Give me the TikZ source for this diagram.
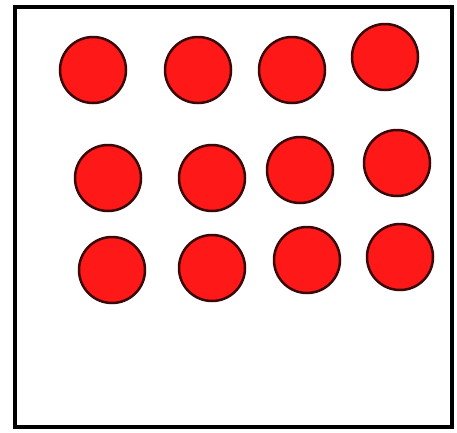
\documentclass[tikz,border=0pt]{standalone}
\definecolor{dotred}{HTML}{FF1818}
\definecolor{dotedge}{HTML}{3A0808}
\tikzset{
  dot/.style={circle, draw=dotedge, fill=dotred, line width=2.5pt, inner sep=0pt, minimum size=66pt},
  frame/.style={draw=black, line width=4pt}
}
\begin{document}
\begin{tikzpicture}[x=1pt,y=-1pt]
\useasboundingbox (0,0) rectangle (457,432);
\draw[frame] (15,7) rectangle (452,427);
% row 1
\node[dot] (a1) at (93,70) {};
\node[dot] (a2) at (198,70) {};
\node[dot] (a3) at (292,70) {};
\node[dot] (a4) at (385,57) {};
% row 2
\node[dot] (b1) at (108,178) {};
\node[dot] (b2) at (212,178) {};
\node[dot] (b3) at (300,170) {};
\node[dot] (b4) at (397,163) {};
% row 3
\node[dot] (c1) at (112,270) {};
\node[dot] (c2) at (212,268) {};
\node[dot] (c3) at (307,260) {};
\node[dot] (c4) at (400,257) {};
\end{tikzpicture}
\end{document}
